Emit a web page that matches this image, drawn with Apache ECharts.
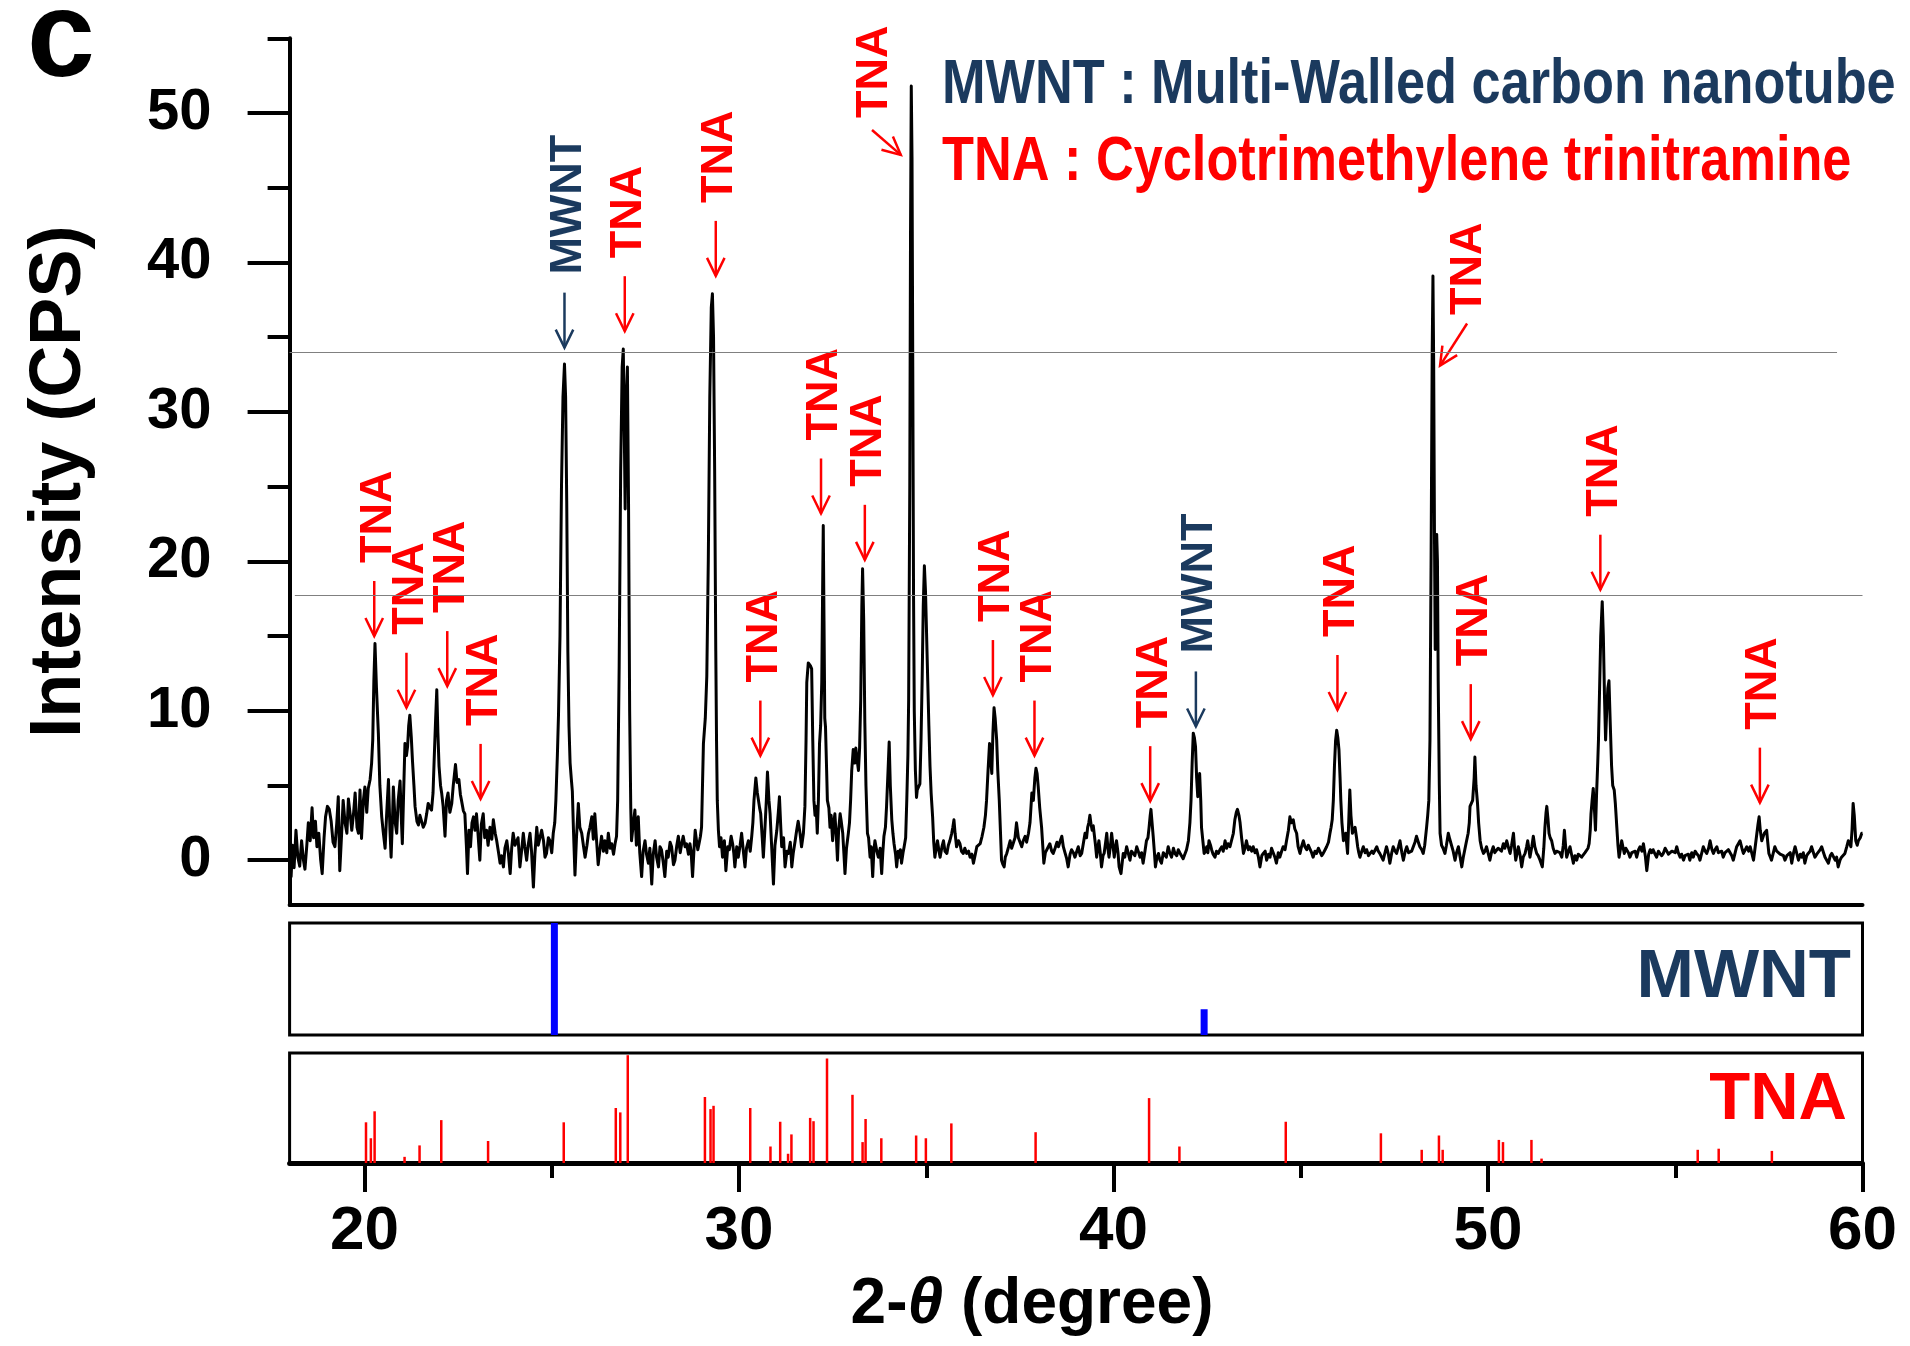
<!DOCTYPE html>
<html>
<head>
<meta charset="utf-8">
<title>XRD pattern – MWNT / TNA</title>
<script src="https://cdn.jsdelivr.net/npm/echarts@6/dist/echarts.min.js"></script>
<style>
  html, body { margin: 0; padding: 0; background: #ffffff; }
  #chart { width: 1910px; height: 1346px; }
</style>
</head>
<body>
<div id="chart"></div>
<script>
// ---------------------------------------------------------------------------
// Measured XRD scan: [2θ (degree), intensity (CPS)], split by angular range
// ---------------------------------------------------------------------------
const scan18to23 = [
  [18.00,4.1],[18.04,-1.1],[18.08,1.0],[18.12,-0.5],[18.17,2.0],[18.22,0.2],[18.27,-0.4],[18.32,1.3],[18.37,0.0],[18.41,-0.6],
  [18.46,1.0],[18.50,2.5],[18.55,1.3],[18.60,3.5],[18.64,1.5],[18.69,2.6],[18.73,0.9],[18.78,1.8],[18.83,0.0],[18.87,-0.9],
  [18.92,1.5],[18.96,2.9],[19.01,3.6],[19.06,3.4],[19.11,2.6],[19.16,1.2],[19.21,0.9],[19.26,2.5],[19.30,4.25],[19.34,-0.7],
  [19.39,1.8],[19.43,4.0],[19.48,2.5],[19.53,1.8],[19.57,4.1],[19.62,3.0],[19.66,2.0],[19.71,3.2],[19.75,4.5],[19.80,2.2],
  [19.84,1.8],[19.88,4.7],[19.92,1.45],[19.97,4.0],[20.01,4.9],[20.06,3.2],[20.10,4.8],[20.15,5.4],[20.19,6.5],[20.22,8.05],
  [20.25,12.0],[20.28,14.5],[20.32,11.5],[20.37,8.5],[20.41,5.0],[20.46,2.9],[20.50,1.9],[20.55,0.8],[20.59,3.0],[20.64,5.4],
  [20.68,2.0],[20.71,0.2],[20.75,3.0],[20.77,4.9],[20.82,2.5],[20.86,1.8],[20.90,4.0],[20.95,5.3],[20.98,3.0],[21.01,1.1],
  [21.05,5.0],[21.08,7.8],[21.12,7.0],[21.15,7.6],[21.18,9.0],[21.21,9.7],[21.25,8.2],[21.28,6.7],[21.32,5.0],[21.35,3.6],
  [21.40,2.6],[21.44,2.35],[21.48,3.0],[21.53,2.9],[21.57,2.2],[21.62,2.5],[21.66,3.1],[21.70,3.8],[21.75,3.5],[21.79,3.35],
  [21.83,4.5],[21.86,6.7],[21.90,9.5],[21.93,11.4],[21.96,8.5],[21.99,6.3],[22.03,5.0],[22.06,4.5],[22.10,3.6],[22.15,1.6],
  [22.19,4.0],[22.23,4.5],[22.28,3.2],[22.33,3.8],[22.37,5.0],[22.43,6.4],[22.47,5.2],[22.52,5.4],[22.56,4.4],[22.59,4.0],
  [22.64,3.3],[22.68,3.1],[22.72,1.0],[22.75,-0.9],[22.79,2.0],[22.83,0.9],[22.87,2.5],[22.91,2.9],[22.95,2.0],[22.99,3.1]
];
const scan23to28 = [
  [23.03,1.8],[23.08,0.0],[23.12,2.4],[23.17,3.1],[23.21,1.5],[23.26,2.0],[23.30,1.0],[23.35,2.2],[23.40,1.4],[23.44,2.7],
  [23.49,1.8],[23.53,1.3],[23.58,0.5],[23.62,-0.2],[23.66,0.3],[23.71,-0.45],[23.75,0.8],[23.80,1.3],[23.84,0.5],[23.89,-0.9],
  [23.93,0.8],[23.97,1.8],[24.02,1.0],[24.06,0.9],[24.10,1.5],[24.15,-0.45],[24.19,0.5],[24.24,1.8],[24.28,0.9],[24.33,0.0],
  [24.37,1.0],[24.42,1.8],[24.46,0.6],[24.51,-1.8],[24.55,0.4],[24.60,2.2],[24.64,1.0],[24.69,0.9],[24.73,2.0],[24.78,1.3],
  [24.82,0.2],[24.86,0.45],[24.91,1.5],[24.95,1.3],[25.00,0.5],[25.04,1.8],[25.08,2.5],[25.11,4.0],[25.15,7.0],[25.18,9.7],
  [25.22,15.0],[25.26,25.0],[25.30,31.0],[25.34,33.2],[25.37,31.0],[25.40,24.0],[25.43,14.0],[25.46,9.0],[25.49,6.5],[25.52,5.5],
  [25.55,4.6],[25.58,2.0],[25.62,-1.0],[25.66,1.5],[25.71,3.8],[25.75,2.2],[25.80,1.8],[25.85,0.9],[25.89,0.2],[25.94,1.0],
  [25.98,1.8],[26.02,2.2],[26.07,2.9],[26.11,1.4],[26.15,3.1],[26.20,1.2],[26.24,-0.3],[26.29,0.8],[26.33,1.6],[26.38,0.6],
  [26.42,1.3],[26.47,0.5],[26.51,1.8],[26.56,0.8],[26.60,1.1],[26.65,0.4],[26.69,1.1],[26.73,1.6],[26.76,4.0],[26.80,12.9],
  [26.84,26.0],[26.88,33.0],[26.91,34.2],[26.94,28.0],[26.96,23.5],[26.99,31.0],[27.02,33.0],[27.05,24.0],[27.08,10.0],[27.11,3.5],
  [27.13,1.3],[27.18,2.5],[27.22,3.35],[27.26,1.0],[27.31,2.9],[27.35,0.5],[27.40,-1.1],[27.44,0.6],[27.49,1.3],[27.53,0.4],
  [27.58,-0.2],[27.62,0.8],[27.67,-1.6],[27.71,0.4],[27.76,1.3],[27.80,0.2],[27.85,-0.45],[27.89,0.9],[27.93,0.7],[27.98,-0.2]
];
const scan28to34 = [
  [28.02,-1.1],[28.07,0.6],[28.11,0.2],[28.16,1.2],[28.20,0.9],[28.25,-0.3],[28.29,0.0],[28.34,1.0],[28.38,1.6],[28.43,0.5],
  [28.47,1.1],[28.51,1.6],[28.56,0.9],[28.60,1.1],[28.65,0.4],[28.69,1.1],[28.72,0.6],[28.76,-1.1],[28.80,0.8],[28.83,2.0],
  [28.87,1.2],[28.90,0.7],[28.94,1.2],[28.97,1.6],[29.00,2.2],[29.05,7.8],[29.10,9.5],[29.14,12.3],[29.18,20.0],[29.22,31.0],
  [29.26,37.0],[29.29,37.9],[29.32,35.0],[29.35,26.0],[29.38,14.0],[29.40,8.0],[29.42,4.0],[29.45,2.0],[29.48,0.9],[29.52,1.5],
  [29.56,0.2],[29.61,1.3],[29.65,-0.7],[29.70,0.9],[29.74,0.7],[29.79,1.6],[29.83,1.1],[29.86,0.5],[29.89,-0.45],[29.94,0.9],
  [29.98,0.2],[30.03,1.0],[30.07,1.8],[30.12,0.5],[30.16,-0.45],[30.20,0.8],[30.25,1.3],[30.30,0.6],[30.34,1.6],[30.37,2.5],
  [30.40,4.0],[30.45,5.5],[30.49,4.5],[30.52,4.0],[30.55,3.5],[30.58,3.1],[30.62,1.5],[30.65,0.2],[30.69,2.0],[30.73,4.0],
  [30.76,5.9],[30.80,4.0],[30.83,3.1],[30.88,0.5],[30.92,-1.6],[30.96,1.0],[31.01,2.0],[31.05,3.2],[31.08,4.25],[31.11,2.5],
  [31.14,0.9],[31.19,1.5],[31.23,-0.45],[31.28,0.6],[31.32,0.45],[31.37,1.2],[31.41,-0.45],[31.45,0.5],[31.50,1.3],[31.54,2.0],
  [31.58,2.6],[31.63,1.8],[31.67,0.9],[31.72,1.8],[31.76,3.6],[31.79,8.0],[31.81,11.9],[31.85,13.2],[31.88,13.3],[31.91,13.0],
  [31.94,12.8],[31.97,8.0],[32.00,4.0],[32.03,3.0],[32.06,3.6],[32.09,1.8],[32.12,4.0],[32.15,7.8],[32.18,9.0],[32.21,11.9],
  [32.24,20.0],[32.25,22.4],[32.27,16.0],[32.29,9.5],[32.31,8.9],[32.34,6.0],[32.36,4.0],[32.40,3.5],[32.43,2.2],[32.46,3.0],
  [32.50,1.3],[32.53,2.5],[32.56,3.1],[32.60,1.5],[32.63,0.0],[32.66,2.0],[32.70,3.1],[32.73,2.6],[32.77,1.8],[32.80,0.5],
  [32.83,-0.9],[32.87,0.8],[32.92,1.8],[32.95,2.5],[32.98,4.0],[33.01,6.0],[33.05,7.4],[33.09,6.5],[33.12,7.5],[33.15,6.8],
  [33.19,6.0],[33.22,7.5],[33.25,10.7],[33.28,17.0],[33.30,19.5],[33.33,16.0],[33.36,9.2],[33.39,5.0],[33.43,1.8],[33.46,1.5],
  [33.50,0.2],[33.53,0.9],[33.57,-1.1],[33.60,0.6],[33.63,1.3],[33.68,0.6],[33.72,0.2],[33.77,0.8],[33.81,-0.9],[33.84,0.5],
  [33.87,1.6],[33.91,2.2],[33.94,3.6],[33.98,6.0]
];
const scan34to40 = [
  [34.01,7.9],[34.04,5.0],[34.08,2.7],[34.11,1.8],[34.14,1.1],[34.18,0.4],[34.21,-0.45],[34.25,0.6],[34.28,0.2],[34.31,0.7],
  [34.34,-0.2],[34.38,0.5],[34.41,0.9],[34.45,1.5],[34.48,4.0],[34.51,7.0],[34.53,10.7],[34.56,25.0],[34.58,42.0],[34.60,51.8],
  [34.62,47.0],[34.64,33.0],[34.66,18.0],[34.68,10.0],[34.71,6.0],[34.74,4.2],[34.76,4.7],[34.80,4.8],[34.83,5.1],[34.86,8.0],
  [34.89,12.0],[34.92,17.0],[34.95,19.7],[34.98,18.0],[35.01,15.0],[35.04,12.0],[35.07,9.0],[35.10,6.3],[35.13,4.5],[35.17,2.9],
  [35.20,1.2],[35.23,0.2],[35.27,0.9],[35.30,1.3],[35.34,0.6],[35.37,0.2],[35.42,0.9],[35.46,1.3],[35.50,0.6],[35.55,0.45],
  [35.59,1.0],[35.63,1.3],[35.68,1.8],[35.71,2.2],[35.74,2.7],[35.77,1.8],[35.81,0.9],[35.86,1.3],[35.90,1.1],[35.94,0.6],
  [35.99,0.45],[36.03,0.8],[36.08,0.45],[36.13,0.6],[36.17,0.2],[36.22,0.4],[36.26,-0.2],[36.31,0.4],[36.35,0.9],[36.40,0.8],
  [36.44,1.1],[36.49,1.6],[36.54,2.2],[36.58,3.0],[36.61,4.0],[36.65,6.0],[36.69,7.8],[36.72,6.8],[36.75,5.8],[36.78,8.5],
  [36.81,10.2],[36.84,9.5],[36.88,8.05],[36.91,6.0],[36.95,4.0],[36.98,2.0],[37.01,0.0],[37.05,-0.3],[37.08,-0.45],[37.11,0.2],
  [37.15,0.45],[37.20,0.9],[37.24,1.3],[37.28,0.8],[37.33,0.9],[37.37,1.5],[37.41,2.5],[37.46,1.5],[37.50,1.6],[37.55,0.9],
  [37.59,1.3],[37.64,1.6],[37.68,1.2],[37.73,1.8],[37.77,2.5],[37.82,4.5],[37.86,4.0],[37.90,5.5],[37.93,6.15],[37.96,5.8],
  [37.99,4.9],[38.03,3.5],[38.08,2.2],[38.11,1.0],[38.14,-0.2],[38.18,0.5],[38.22,0.45],[38.26,0.9],[38.30,1.1],[38.35,0.6],
  [38.39,0.45],[38.44,0.8],[38.49,1.2],[38.53,0.9],[38.58,1.3],[38.62,1.6],[38.66,0.9],[38.71,0.45],[38.75,0.1],[38.79,-0.45],
  [38.84,0.4],[38.88,0.7],[38.93,0.5],[38.97,0.2],[39.02,0.6],[39.06,0.9],[39.11,0.3],[39.15,0.45],[39.20,1.2],[39.24,1.8],
  [39.28,1.5],[39.31,2.2],[39.34,2.5],[39.37,3.0],[39.40,2.4],[39.43,2.0],[39.46,2.3],[39.49,2.2],[39.52,1.0],[39.55,0.2],
  [39.58,0.8],[39.61,1.3],[39.65,0.4],[39.68,-0.45],[39.72,0.3],[39.75,0.45],[39.79,1.2],[39.82,1.8],[39.85,0.8],[39.88,0.2],
  [39.92,1.0],[39.95,1.8],[39.99,0.9]
];
const scan40to46 = [
  [40.02,0.2],[40.05,0.8],[40.08,1.3],[40.12,0.5],[40.15,-0.45],[40.20,-0.9],[40.26,0.45],[40.30,0.2],[40.35,0.9],[40.39,0.5],
  [40.44,0.0],[40.48,0.6],[40.53,0.45],[40.57,0.3],[40.62,0.9],[40.66,0.6],[40.71,0.2],[40.75,0.5],[40.79,-0.2],[40.84,0.6],
  [40.88,1.3],[40.92,1.5],[40.95,2.2],[40.98,3.0],[41.00,3.4],[41.03,2.5],[41.06,1.6],[41.09,0.6],[41.12,-0.45],[41.16,0.2],
  [41.20,0.45],[41.24,0.0],[41.28,-0.2],[41.33,0.5],[41.37,0.45],[41.41,0.2],[41.46,0.9],[41.50,0.5],[41.55,0.2],[41.60,0.8],
  [41.64,0.45],[41.69,0.3],[41.73,0.7],[41.77,0.5],[41.82,0.45],[41.86,0.1],[41.91,0.0],[41.95,0.7],[42.00,1.3],[42.04,2.5],
  [42.07,4.0],[42.10,6.5],[42.13,8.5],[42.16,8.2],[42.19,7.6],[42.22,5.5],[42.25,4.25],[42.28,5.0],[42.30,5.8],[42.33,4.0],
  [42.35,2.2],[42.39,1.2],[42.42,0.45],[42.46,0.6],[42.49,0.9],[42.52,0.5],[42.55,1.3],[42.59,1.0],[42.62,0.7],[42.66,0.4],
  [42.71,0.2],[42.75,0.6],[42.80,0.45],[42.84,0.7],[42.89,0.9],[42.93,0.6],[42.98,1.3],[43.02,0.8],[43.06,1.1],[43.11,0.9],
  [43.15,1.3],[43.20,1.8],[43.24,2.7],[43.28,3.2],[43.31,3.4],[43.35,3.0],[43.38,2.5],[43.42,1.5],[43.47,0.45],[43.51,0.8],
  [43.55,1.3],[43.60,0.7],[43.64,0.9],[43.69,0.6],[43.73,0.9],[43.78,0.5],[43.82,0.7],[43.87,0.2],[43.91,-0.45],[43.96,0.3],
  [44.00,0.45],[44.05,0.6],[44.09,0.0],[44.14,0.4],[44.18,0.2],[44.22,0.8],[44.27,0.7],[44.31,0.2],[44.35,-0.2],[44.40,0.5],
  [44.44,0.2],[44.49,0.6],[44.53,0.9],[44.58,0.7],[44.62,1.3],[44.67,2.0],[44.71,2.9],[44.75,2.5],[44.80,2.7],[44.84,2.1],
  [44.89,1.8],[44.93,0.9],[44.98,0.45],[45.02,0.9],[45.07,1.3],[45.11,0.9],[45.16,0.7],[45.20,1.0],[45.24,0.9],[45.29,0.5],
  [45.33,0.2],[45.38,0.6],[45.42,0.45],[45.47,0.8],[45.51,0.7],[45.56,0.3],[45.60,0.45],[45.65,0.7],[45.69,0.9],[45.74,1.2],
  [45.78,1.8],[45.81,2.2],[45.84,2.7],[45.87,4.0],[45.90,6.3],[45.93,8.0],[45.96,8.7],[45.99,8.2]
];
const scan46to52 = [
  [46.02,7.4],[46.05,5.5],[46.07,4.0],[46.10,2.5],[46.14,1.3],[46.17,1.6],[46.20,1.8],[46.23,1.0],[46.25,0.45],[46.28,2.5],
  [46.31,4.7],[46.34,3.0],[46.38,1.8],[46.41,2.0],[46.45,2.2],[46.49,1.5],[46.52,0.9],[46.55,0.5],[46.58,0.2],[46.63,0.6],
  [46.67,0.9],[46.72,0.5],[46.76,0.7],[46.81,0.3],[46.85,0.45],[46.90,0.6],[46.94,0.45],[46.99,0.7],[47.03,0.9],[47.07,0.6],
  [47.11,0.45],[47.16,0.2],[47.20,0.0],[47.25,0.5],[47.29,0.9],[47.34,0.4],[47.38,-0.2],[47.43,0.5],[47.47,0.9],[47.52,0.6],
  [47.56,0.45],[47.61,0.9],[47.65,1.3],[47.70,0.5],[47.74,0.0],[47.79,0.6],[47.83,0.9],[47.88,0.5],[47.92,0.45],[47.96,0.6],
  [48.00,0.7],[48.05,1.2],[48.09,1.6],[48.14,1.2],[48.18,0.9],[48.23,0.7],[48.27,0.45],[48.31,1.0],[48.36,2.2],[48.39,3.0],
  [48.42,4.0],[48.45,8.0],[48.48,20.0],[48.51,34.0],[48.53,39.1],[48.55,33.0],[48.57,22.0],[48.59,14.1],[48.61,17.0],[48.63,21.8],
  [48.65,20.0],[48.67,12.0],[48.70,5.0],[48.72,1.8],[48.76,1.0],[48.80,0.8],[48.85,0.45],[48.89,1.0],[48.94,1.8],[48.98,1.4],
  [49.03,1.3],[49.07,0.6],[49.12,0.0],[49.16,0.5],[49.21,0.9],[49.25,0.3],[49.30,-0.45],[49.34,0.2],[49.38,0.7],[49.42,1.2],
  [49.47,1.8],[49.50,2.5],[49.52,3.6],[49.56,3.6],[49.59,4.0],[49.61,4.0],[49.63,5.5],[49.65,6.9],[49.68,5.0],[49.72,3.8],
  [49.75,2.5],[49.79,1.3],[49.83,0.8],[49.88,0.45],[49.92,0.6],[49.96,0.9],[50.01,0.4],[50.05,0.0],[50.10,0.6],[50.14,0.9],
  [50.18,0.5],[50.23,0.45],[50.27,0.8],[50.32,0.9],[50.36,0.6],[50.41,1.1],[50.45,0.8],[50.50,1.3],[50.54,0.9],[50.59,0.45],
  [50.63,1.0],[50.68,1.8],[50.71,0.8],[50.74,0.0],[50.78,0.5],[50.81,0.9],[50.86,0.3],[50.90,-0.45],[50.94,0.2],[50.99,0.45],
  [51.03,0.9],[51.06,1.3],[51.09,0.8],[51.12,0.2],[51.17,0.9],[51.21,1.6],[51.25,0.9],[51.30,0.45],[51.34,0.3],[51.39,0.0],
  [51.45,-0.45],[51.49,0.8],[51.52,2.2],[51.55,3.2],[51.57,3.6],[51.60,2.8],[51.63,1.8],[51.66,1.5],[51.70,1.3],[51.74,0.8],
  [51.79,0.45],[51.83,0.6],[51.88,0.7],[51.92,0.5],[51.97,0.2]
];
const scan52to60 = [
  [52.01,1.0],[52.04,2.0],[52.07,1.0],[52.10,0.2],[52.15,0.6],[52.19,0.9],[52.23,0.4],[52.28,-0.2],[52.32,0.3],[52.37,0.0],
  [52.41,0.4],[52.46,0.45],[52.50,0.2],[52.55,0.2],[52.59,0.5],[52.64,0.45],[52.67,0.8],[52.70,1.1],[52.73,2.0],[52.75,3.1],
  [52.78,4.0],[52.81,4.8],[52.84,3.5],[52.87,2.0],[52.90,4.5],[52.93,6.5],[52.95,8.05],[52.98,11.5],[53.01,15.0],[53.05,17.3],
  [53.08,15.0],[53.11,11.0],[53.14,8.05],[53.17,10.0],[53.20,11.5],[53.23,12.0],[53.26,9.5],[53.30,6.3],[53.33,5.0],[53.37,4.7],
  [53.40,3.8],[53.44,2.2],[53.47,1.0],[53.50,0.2],[53.54,0.8],[53.57,1.3],[53.61,0.8],[53.64,0.45],[53.68,0.8],[53.70,0.9],
  [53.75,0.5],[53.79,0.2],[53.84,0.5],[53.88,0.45],[53.93,0.6],[53.97,0.2],[54.02,0.7],[54.06,0.9],[54.11,0.6],[54.15,1.1],
  [54.20,0.3],[54.24,-0.7],[54.29,0.4],[54.33,0.7],[54.37,0.5],[54.41,0.7],[54.46,0.4],[54.50,0.2],[54.55,0.6],[54.59,0.45],
  [54.64,0.3],[54.68,0.45],[54.73,0.8],[54.77,0.7],[54.82,0.4],[54.86,0.45],[54.91,0.6],[54.95,0.7],[55.00,0.5],[55.04,0.9],
  [55.08,0.5],[55.13,0.2],[55.17,0.4],[55.22,0.0],[55.26,0.3],[55.31,0.2],[55.35,0.4],[55.39,0.0],[55.44,0.5],[55.48,0.2],
  [55.53,0.6],[55.57,0.45],[55.62,0.3],[55.66,0.0],[55.71,0.5],[55.75,0.9],[55.80,0.6],[55.84,0.45],[55.89,0.8],[55.93,1.3],
  [55.98,0.7],[56.02,0.45],[56.06,0.7],[56.11,0.9],[56.15,0.5],[56.19,0.45],[56.24,0.6],[56.28,0.2],[56.33,0.5],[56.37,0.45],
  [56.42,0.7],[56.46,0.7],[56.51,0.3],[56.55,0.0],[56.60,0.5],[56.64,0.9],[56.69,1.0],[56.73,1.3],[56.78,0.8],[56.82,0.45],
  [56.87,0.7],[56.91,0.9],[56.96,0.6],[57.00,0.9],[57.05,0.4],[57.09,0.0],[57.13,0.8],[57.18,1.8],[57.21,2.4],[57.24,2.9],
  [57.27,2.0],[57.31,1.3],[57.35,1.6],[57.38,1.8],[57.41,1.9],[57.44,2.0],[57.47,1.2],[57.50,0.45],[57.54,0.2],[57.57,0.0],
  [57.62,0.5],[57.66,0.9],[57.71,0.6],[57.75,0.7],[57.80,0.4],[57.84,0.45],[57.89,0.3],[57.93,0.0],[57.98,0.3],[58.02,0.2],
  [58.07,0.5],[58.11,-0.2],[58.16,0.5],[58.20,0.9],[58.25,0.4],[58.29,0.0],[58.34,0.4],[58.38,0.2],[58.42,0.5],[58.46,-0.2],
  [58.51,0.3],[58.55,0.45],[58.60,0.6],[58.64,0.9],[58.69,0.5],[58.73,0.2],[58.78,0.4],[58.82,0.45],[58.87,0.7],[58.91,0.9],
  [58.96,0.5],[59.00,0.2],[59.05,0.3],[59.09,-0.2],[59.14,0.3],[59.18,0.45],[59.23,0.2],[59.27,0.0],[59.31,0.2],[59.35,-0.45],
  [59.40,0.0],[59.44,0.2],[59.49,0.3],[59.53,0.45],[59.58,0.9],[59.62,1.3],[59.66,1.1],[59.69,0.9],[59.72,2.0],[59.75,3.8],
  [59.78,3.0],[59.82,1.3],[59.86,1.0],[59.89,1.3],[59.94,1.5],[59.98,1.8],[60.00,1.8]
];

// Reference stick patterns (relative intensity, %)
const mwntRefTheta = [25.07, 42.42];
const mwntRefInt   = [100, 23];
const tnaRefTheta = [20.04, 20.17, 20.27, 21.07, 21.47, 22.05, 23.30, 25.32, 26.71, 26.83, 27.03,
                     29.09, 29.24, 29.32, 30.30, 30.84, 31.10, 31.31, 31.40, 31.90, 31.99, 32.35,
                     33.03, 33.30, 33.38, 33.80, 34.73, 34.99, 35.67, 37.92, 40.95, 41.76, 44.60,
                     47.14, 48.23, 48.69, 48.79, 50.29, 50.40, 51.16, 51.43, 55.60, 56.16, 57.58];
const tnaRefInt   = [37, 22.5, 47, 5.6, 16, 39, 20, 37, 50, 46, 98,
                     60, 49, 52, 50, 15, 37.5, 8.4, 26, 41, 38, 95,
                     62, 19, 40, 22.5, 25, 22.5, 36, 28, 59, 15, 37.5,
                     27, 12, 25, 12, 21, 19, 21, 4, 12, 13, 11];

// Peak assignments: arrow tip position (2θ, CPS) and phase name
const annoTheta = [20.26, 21.12, 22.21, 23.10, 25.34, 26.95, 29.38, 30.57, 32.19, 33.36,
                   34.32, 36.78, 37.89, 40.98, 42.20, 45.98, 48.72, 49.54, 53.00, 57.26];
const annoTip   = [15.0, 10.2, 11.65, 4.1, 34.3, 35.4, 39.1, 7.0, 23.2, 20.1,
                   47.2, 11.05, 7.0, 3.95, 8.95, 10.05, 33.1, 8.1, 18.1, 3.85];
const annoName  = ['TNA', 'TNA', 'TNA', 'TNA', 'MWNT', 'TNA', 'TNA', 'TNA', 'TNA', 'TNA',
                   'TNA', 'TNA', 'TNA', 'TNA', 'MWNT', 'TNA', 'TNA', 'TNA', 'TNA', 'TNA'];
// Two crowded peaks get a slanted leader with the label set beside the peak (label base in 2θ / CPS)
const slantedLeaders = {
  10: { labelTheta: 33.61, labelBase: 49.66, dir: 40.8, len: 38 },
  16: { labelTheta: 49.49, labelBase: 36.48, dir: 122.7, len: 50 }
};

// Faint horizontal guide lines across the pattern (CPS level, 2θ start, 2θ end)
const guideLevels = [33.96, 17.74];
const guideFrom   = [18.0, 18.14];
const guideTo     = [59.32, 60.0];

// Axis ticks
const yMajorTicks = [0, 10, 20, 30, 40, 50];
const yMinorTicks = [5, 15, 25, 35, 45, 55];
const xMajorTicks = [20, 30, 40, 50, 60];
const xMinorTicks = [25, 35, 45, 55];

// ---------------------------------------------------------------------------
const FONT = '"Liberation Sans", Arial, Helvetica, sans-serif';
const NAVY = '#1b3a5e';
const RED = '#ff0000';
const BLUE = '#0000ff';

const scan = [].concat(scan18to23, scan23to28, scan28to34, scan34to40, scan40to46, scan46to52, scan52to60);

const chart = echarts.init(document.getElementById('chart'), null, { renderer: 'canvas', width: 1910, height: 1346 });

function annotationItem(params, api) {
  const i = params.dataIndex;
  const tip = api.coord([api.value(0), api.value(1)]);
  const color = annoName[i] === 'MWNT' ? NAVY : RED;
  const s = slantedLeaders[i];
  const dirDeg = s ? s.dir : 90;
  const len = s ? s.len : 55;
  const a = dirDeg * Math.PI / 180;
  const dx = Math.cos(a), dy = Math.sin(a);
  const tail = [tip[0] - dx * len, tip[1] - dy * len];
  const headLen = 20, spread = 26 * Math.PI / 180;
  const back = Math.atan2(-dy, -dx);
  const h1 = [tip[0] + headLen * Math.cos(back + spread), tip[1] + headLen * Math.sin(back + spread)];
  const h2 = [tip[0] + headLen * Math.cos(back - spread), tip[1] + headLen * Math.sin(back - spread)];
  const anchor = s ? api.coord([s.labelTheta, s.labelBase]) : [tip[0] + 4, tip[1] - len - 18];
  return {
    type: 'group',
    children: [
      { type: 'line', shape: { x1: tail[0], y1: tail[1], x2: tip[0], y2: tip[1] },
        style: { stroke: color, lineWidth: 2.5, fill: 'none' } },
      { type: 'polyline', shape: { points: [h1, tip, h2] },
        style: { stroke: color, lineWidth: 2.5, fill: 'none' } },
      { type: 'text', x: anchor[0], y: anchor[1], rotation: Math.PI / 2,
        style: { text: annoName[i], fill: color, fontSize: 45, fontWeight: 'bold', fontFamily: FONT,
                 align: 'left', verticalAlign: 'middle' } }
    ]
  };
}

const option = {
  backgroundColor: '#ffffff',
  animation: false,
  grid: [
    { left: 289.6, right: 47.5, top: 38.3, height: 866.7, show: false },
    { left: 289.6, right: 47.5, top: 923, height: 112, show: true, borderColor: '#000', borderWidth: 3, backgroundColor: 'transparent' },
    { left: 289.6, right: 47.5, top: 1053, height: 110, show: true, borderColor: '#000', borderWidth: 3, backgroundColor: 'transparent' }
  ],
  xAxis: [
    { gridIndex: 0, type: 'value', min: 18, max: 60,
      axisLine: { onZero: false, lineStyle: { color: '#000', width: 4 } },
      axisTick: { show: false }, axisLabel: { show: false }, splitLine: { show: false } },
    { gridIndex: 1, type: 'value', min: 18, max: 60, show: false },
    { gridIndex: 2, type: 'value', min: 18, max: 60, position: 'bottom',
      axisLine: { onZero: false, lineStyle: { color: '#000', width: 5 } },
      axisTick: { show: true, customValues: xMajorTicks, length: 29, lineStyle: { color: '#000', width: 4 } },
      axisLabel: { show: true, customValues: xMajorTicks, fontSize: 62, fontWeight: 'bold', fontFamily: FONT, color: '#000', margin: 38 },
      splitLine: { show: false },
      name: '2-{i|θ} (degree)', nameLocation: 'middle', nameGap: 110,
      nameTextStyle: { fontSize: 64, fontWeight: 'bold', fontFamily: FONT, color: '#000', padding: [0, 88, 0, 0],
        rich: { i: { fontSize: 64, fontWeight: 'bold', fontStyle: 'italic', fontFamily: FONT, color: '#000' } } } },
    { gridIndex: 2, type: 'value', min: 18, max: 60, position: 'bottom',
      axisLine: { show: false, onZero: false },
      axisTick: { show: true, customValues: xMinorTicks, length: 15, lineStyle: { color: '#000', width: 4 } },
      axisLabel: { show: false }, splitLine: { show: false } }
  ],
  yAxis: [
    { gridIndex: 0, type: 'value', min: -3, max: 55, position: 'left',
      axisLine: { show: true, lineStyle: { color: '#000', width: 4 } },
      axisTick: { show: true, customValues: yMajorTicks, length: 42, lineStyle: { color: '#000', width: 4 } },
      axisLabel: { show: true, customValues: yMajorTicks, fontSize: 58, fontWeight: 'bold', fontFamily: FONT, color: '#000', margin: 78 },
      splitLine: { show: false },
      name: 'Intensity (CPS)', nameLocation: 'middle', nameGap: 193,
      nameTextStyle: { fontSize: 72, fontWeight: 'bold', fontFamily: FONT, color: '#000', padding: [0, 20, 0, 0] } },
    { gridIndex: 0, type: 'value', min: -3, max: 55, position: 'left', offset: 0,
      axisLine: { show: false },
      axisTick: { show: true, customValues: yMinorTicks, length: 22, lineStyle: { color: '#000', width: 4 } },
      axisLabel: { show: false }, splitLine: { show: false } },
    { gridIndex: 1, type: 'value', min: 0, max: 100, show: false },
    { gridIndex: 2, type: 'value', min: 0, max: 100, show: false }
  ],
  graphic: [
    { type: 'text', x: 27, y: 42, silent: true,
      style: { text: 'c', fill: '#000', fontSize: 122, fontWeight: 'bold', fontFamily: FONT,
               align: 'left', verticalAlign: 'middle', textAlign: 'left', textVerticalAlign: 'middle' } },
    { type: 'text', x: 942, y: 86, scaleX: 0.83, silent: true,
      style: { text: 'MWNT : Multi-Walled carbon nanotube', fill: NAVY, fontSize: 63, fontWeight: 'bold', fontFamily: FONT,
               align: 'left', verticalAlign: 'middle', textAlign: 'left', textVerticalAlign: 'middle' } },
    { type: 'text', x: 942, y: 163, scaleX: 0.83, silent: true,
      style: { text: 'TNA : Cyclotrimethylene trinitramine', fill: RED, fontSize: 63, fontWeight: 'bold', fontFamily: FONT,
               align: 'left', verticalAlign: 'middle', textAlign: 'left', textVerticalAlign: 'middle' } },
    { type: 'text', x: 1851, y: 978, silent: true,
      style: { text: 'MWNT', fill: NAVY, fontSize: 69, fontWeight: 'bold', fontFamily: FONT,
               align: 'right', verticalAlign: 'middle', textAlign: 'right', textVerticalAlign: 'middle' } },
    { type: 'text', x: 1847, y: 1101, silent: true,
      style: { text: 'TNA', fill: RED, fontSize: 67, fontWeight: 'bold', fontFamily: FONT,
               align: 'right', verticalAlign: 'middle', textAlign: 'right', textVerticalAlign: 'middle' } }
  ],
  series: [
    {
      name: 'XRD pattern', type: 'line', xAxisIndex: 0, yAxisIndex: 0,
      data: scan, showSymbol: false, symbol: 'none', sampling: null,
      lineStyle: { color: '#000', width: 3, join: 'round' },
      silent: true, z: 3,
      markLine: {
        silent: true, symbol: ['none', 'none'], label: { show: false },
        lineStyle: { color: '#808080', width: 1.2, type: 'solid' },
        data: guideLevels.map((v, i) => [{ coord: [guideFrom[i], v] }, { coord: [guideTo[i], v] }])
      }
    },
    {
      name: 'Peak assignment', type: 'custom', xAxisIndex: 0, yAxisIndex: 0, clip: false, silent: true, z: 4,
      data: annoTheta.map((t, i) => [t, annoTip[i]]),
      encode: { x: 0, y: 1 },
      renderItem: annotationItem
    },
    {
      name: 'MWNT reference', type: 'bar', xAxisIndex: 1, yAxisIndex: 2, barWidth: 7,
      itemStyle: { color: BLUE }, silent: true,
      data: mwntRefTheta.map((t, i) => [t, mwntRefInt[i]])
    },
    {
      name: 'TNA reference', type: 'bar', xAxisIndex: 2, yAxisIndex: 3, barWidth: 2.5,
      itemStyle: { color: RED }, silent: true,
      data: tnaRefTheta.map((t, i) => [t, tnaRefInt[i]])
    }
  ]
};

chart.setOption(option);
</script>
</body>
</html>
